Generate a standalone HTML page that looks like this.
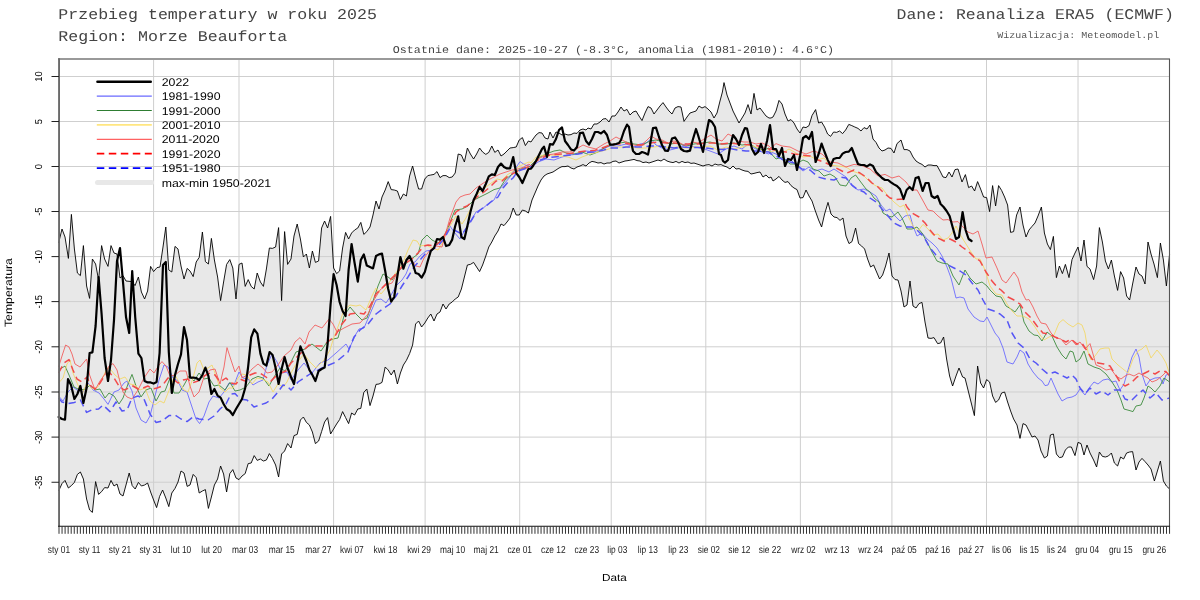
<!DOCTYPE html>
<html lang="pl"><head><meta charset="utf-8"><title>Przebieg temperatury w roku 2025</title>
<style>
html,body{margin:0;padding:0;background:#fff;}
body{width:1200px;height:600px;overflow:hidden;}
svg{display:block;}
text{text-rendering:geometricPrecision;}
.mono{font-family:"Liberation Mono","DejaVu Sans Mono",monospace;fill:#444;}
.sans{font-family:"Liberation Sans","DejaVu Sans",sans-serif;fill:#000;}
</style></head><body>
<svg width="1200" height="600" viewBox="0 0 1200 600">
<rect x="0" y="0" width="1200" height="600" fill="#fff"/>
<text class="mono" font-size="16.6" text-anchor="start" transform="translate(58.30,19.00) scale(1.000,0.900)">Przebieg temperatury w roku 2025</text>
<text class="mono" font-size="16.6" text-anchor="start" transform="translate(58.30,40.50) scale(1.000,0.900)">Region: Morze Beauforta</text>
<text class="mono" font-size="16.5" text-anchor="end" transform="translate(1173.80,19.00) scale(1.000,0.900)">Dane: Reanaliza ERA5 (ECMWF)</text>
<text class="mono" font-size="10" text-anchor="end" transform="translate(1159.30,37.50) scale(1.000,0.920)" style="fill:#555">Wizualizacja: Meteomodel.pl</text>
<text class="mono" font-size="11.68" text-anchor="middle" transform="translate(613.50,52.80) scale(1.000,0.900)">Ostatnie dane: 2025-10-27 (-8.3°C, anomalia (1981-2010): 4.6°C)</text>
<polygon points="58.6,243.0 62.0,229.0 65.0,237.0 68.4,258.4 71.4,214.4 74.4,249.0 77.4,273.0 80.4,275.6 83.4,245.6 86.6,286.0 89.6,298.4 92.4,259.0 95.6,264.0 98.6,280.0 101.6,245.6 104.6,259.0 108.0,266.4 111.0,245.6 114.0,253.0 117.0,254.0 120.0,278.0 123.0,275.6 126.0,281.0 132.0,281.6 135.0,285.6 138.4,277.0 141.4,292.0 144.6,299.0 147.6,291.0 150.6,266.4 153.6,271.6 157.0,267.6 160.0,267.0 163.0,247.0 165.8,227.0 168.8,270.0 171.8,272.0 175.0,246.4 178.0,249.0 181.0,266.0 184.0,279.0 187.2,268.4 190.0,271.0 193.2,276.6 196.2,262.0 199.2,257.4 202.4,232.0 205.4,261.6 208.4,264.0 211.4,238.4 214.4,260.0 217.6,277.0 220.6,300.6 223.6,282.0 226.6,264.4 229.8,259.6 232.8,268.0 236.0,299.0 239.0,264.4 242.0,263.0 245.2,286.4 248.2,279.6 251.2,286.4 254.2,289.0 257.2,273.0 260.4,282.0 263.4,286.4 266.4,269.0 269.4,248.0 272.4,248.4 275.6,247.0 278.6,227.6 281.6,300.6 284.6,231.6 287.6,264.4 291.0,259.0 294.0,236.0 297.2,224.0 300.4,239.0 303.4,257.0 306.4,254.0 309.4,268.0 312.4,251.0 315.4,262.4 318.6,261.0 321.6,228.0 324.6,221.0 327.6,228.0 330.6,216.4 333.6,268.0 336.6,273.6 339.6,271.0 342.6,248.0 345.6,232.4 348.6,239.0 351.6,233.0 354.6,230.0 357.8,228.0 360.8,222.4 363.8,234.4 366.8,231.6 370.0,227.0 373.0,215.0 376.0,201.0 379.0,209.0 382.0,197.0 385.2,190.0 388.2,181.6 391.2,189.6 394.2,190.0 397.4,191.0 400.4,199.6 403.4,194.0 406.4,196.0 409.6,176.0 412.6,166.0 415.6,178.0 418.6,189.0 421.6,189.0 424.8,179.0 427.8,175.6 430.8,175.0 434.0,174.4 437.0,171.6 440.0,177.6 443.0,175.6 446.0,175.6 449.2,177.6 452.2,177.0 455.2,173.0 458.2,154.0 461.4,155.0 464.4,162.0 467.4,148.0 470.4,154.0 473.6,159.0 476.6,154.0 479.6,148.0 482.6,152.0 485.8,154.4 488.8,152.4 491.8,146.0 494.8,152.4 498.0,150.0 501.0,156.0 504.0,154.0 507.0,151.0 510.0,148.0 513.2,147.6 516.2,147.0 519.2,140.0 522.4,137.6 525.4,145.6 528.4,141.0 531.0,142.0 533.0,139.0 536.0,135.0 539.0,132.6 542.0,133.0 545.0,138.0 548.0,139.0 550.0,132.0 553.0,138.0 556.0,132.0 559.0,133.0 562.0,135.0 565.0,134.0 568.0,135.0 571.0,134.6 574.0,133.0 577.0,133.4 580.0,130.0 583.0,129.0 586.0,130.0 588.0,128.0 591.0,129.0 594.0,124.0 597.0,124.0 600.0,122.0 603.0,119.0 606.0,118.6 609.0,122.0 612.0,116.0 615.0,116.0 618.0,112.0 621.0,107.0 624.0,111.0 627.0,109.4 630.0,115.0 633.0,112.0 636.0,111.0 639.0,116.0 642.0,120.6 645.0,113.0 648.0,106.6 651.0,108.0 654.0,114.0 657.0,110.0 660.0,106.0 663.0,102.6 666.0,107.0 669.0,111.0 672.0,114.0 675.0,108.0 678.0,106.6 681.0,107.0 684.0,121.4 687.0,117.0 690.0,113.0 693.0,112.0 696.0,111.0 699.0,106.0 702.0,108.0 705.0,106.6 708.0,109.0 711.0,112.0 714.0,118.0 717.0,113.0 720.0,101.0 722.4,92.0 724.0,82.6 727.0,95.0 730.0,103.0 733.0,111.0 736.0,117.0 739.0,123.0 742.0,118.0 745.0,113.0 748.0,104.6 751.0,114.0 754.0,93.4 757.0,110.0 760.0,108.0 763.0,112.0 766.0,116.0 769.0,118.0 771.0,118.0 773.0,117.0 776.0,111.0 779.0,100.4 782.0,104.0 785.0,114.0 788.0,121.0 791.0,119.6 794.0,123.0 797.0,129.0 800.0,133.0 803.0,127.0 806.0,127.6 809.0,125.6 812.0,115.6 815.6,109.6 818.6,123.0 821.6,122.0 824.6,127.0 827.6,134.0 830.6,136.4 833.6,132.0 836.6,132.4 839.6,131.0 842.6,133.6 845.6,130.0 848.8,124.4 851.8,125.6 854.8,127.0 858.0,128.4 861.0,131.0 864.0,127.6 867.0,129.0 870.0,125.0 873.0,139.0 876.0,142.4 879.0,148.0 882.0,151.0 885.0,150.0 888.0,148.0 891.0,148.4 894.0,153.0 897.0,143.6 901.0,140.0 904.0,149.6 907.0,149.6 910.0,151.0 913.0,157.0 916.0,161.0 919.0,163.0 922.0,164.4 925.0,167.0 928.0,165.0 931.0,165.0 934.0,165.6 937.0,165.6 940.0,171.0 943.0,177.0 946.0,177.6 949.0,172.0 952.0,177.0 955.0,169.6 958.0,169.0 962.0,182.0 965.4,174.6 968.6,187.6 971.6,186.0 974.6,191.0 977.6,181.6 980.6,189.0 983.6,197.0 986.6,197.6 989.6,211.6 992.6,185.6 995.6,206.0 998.6,185.6 1001.6,190.4 1004.6,197.0 1007.6,205.0 1010.6,232.4 1013.6,231.6 1016.6,215.0 1020.0,207.0 1023.0,225.0 1026.0,237.0 1029.0,230.0 1032.0,226.4 1035.0,223.0 1038.0,216.0 1041.4,207.0 1044.4,233.0 1047.4,244.0 1050.4,249.6 1053.4,236.4 1056.4,277.6 1059.4,266.0 1062.4,273.6 1065.4,264.4 1069.0,277.6 1072.0,259.6 1075.0,253.0 1078.0,247.0 1081.0,261.0 1084.0,240.0 1087.0,266.4 1090.0,269.0 1093.6,279.6 1096.6,266.0 1099.4,227.6 1102.4,242.0 1105.4,261.0 1108.4,269.0 1111.4,260.0 1114.4,276.0 1117.6,290.4 1120.6,271.6 1123.6,278.0 1126.6,296.0 1129.6,300.0 1132.6,284.0 1136.0,267.0 1139.0,274.0 1142.0,276.0 1145.0,284.0 1148.0,242.0 1151.0,254.0 1154.0,264.0 1157.4,277.6 1160.4,243.0 1163.4,260.0 1166.4,286.0 1169.6,254.0 1169.6,489.0 1166.4,486.0 1163.4,481.0 1160.4,461.0 1157.4,471.0 1154.4,481.0 1151.0,469.0 1148.0,465.0 1145.0,461.6 1142.0,458.4 1139.0,462.0 1136.0,470.0 1132.6,451.6 1129.6,452.0 1126.6,453.0 1123.6,459.0 1120.6,457.0 1117.6,466.0 1114.4,463.0 1111.4,453.0 1108.4,456.0 1105.4,457.0 1102.4,456.4 1099.4,452.0 1096.6,467.0 1093.6,460.0 1090.0,453.0 1087.0,445.0 1084.0,455.0 1081.0,443.6 1078.0,442.4 1075.0,455.6 1071.4,447.0 1068.4,447.0 1065.4,450.0 1062.4,457.0 1059.4,457.6 1056.4,454.0 1053.4,434.0 1050.4,435.0 1047.4,456.0 1044.4,458.0 1041.0,451.0 1038.0,440.0 1035.0,436.0 1032.0,437.0 1029.0,431.0 1026.0,425.0 1023.0,423.6 1020.0,438.4 1017.0,425.0 1013.6,419.0 1010.6,411.0 1007.6,402.0 1004.6,392.0 1001.6,393.0 998.6,400.0 995.6,402.4 992.6,396.0 989.6,382.0 986.6,379.6 983.6,388.0 980.6,383.0 977.6,366.0 974.4,415.6 969.0,394.0 965.0,378.0 962.6,377.0 959.0,368.0 956.0,376.0 952.6,386.0 949.6,376.0 946.6,359.0 943.6,337.0 940.6,343.0 937.6,343.6 934.0,337.6 931.0,338.4 928.0,338.0 925.0,322.0 922.0,302.4 919.0,303.6 916.0,308.0 913.0,306.0 910.0,281.0 907.0,305.0 904.0,307.0 901.0,291.0 898.0,280.0 895.0,279.6 892.0,276.0 889.0,253.0 885.6,266.0 882.6,275.0 879.6,279.0 876.6,272.0 873.6,265.0 870.6,267.0 867.6,259.0 864.6,249.0 861.6,246.0 858.6,243.6 855.6,228.0 852.0,241.6 849.0,243.6 846.0,236.0 843.0,218.0 840.0,220.4 837.0,217.6 834.0,217.0 831.0,214.0 828.0,202.4 824.6,214.0 821.6,227.0 818.6,220.0 815.0,210.0 812.0,201.0 809.0,196.0 806.0,190.0 803.0,197.6 800.0,198.0 797.0,189.6 794.0,188.0 791.0,185.6 788.0,181.6 785.0,182.4 782.0,180.0 779.0,176.4 776.0,179.0 773.0,181.0 771.0,177.0 769.0,178.0 766.0,175.0 763.0,177.0 760.0,172.0 757.0,172.6 754.0,173.4 751.0,174.0 748.0,171.4 745.0,171.0 742.0,170.0 739.0,168.6 736.0,169.0 733.0,166.0 730.0,169.0 727.0,167.0 724.0,166.0 721.0,164.6 718.0,165.0 715.0,164.0 712.0,166.0 709.0,164.6 706.0,165.0 703.0,166.0 700.0,165.0 697.0,164.0 694.0,163.0 691.0,163.4 688.0,162.0 685.0,162.6 682.0,161.4 679.0,163.0 676.0,161.4 673.0,162.6 670.0,162.0 667.0,161.0 664.0,159.0 661.0,161.0 658.0,160.0 655.0,161.0 652.0,162.0 649.0,163.0 646.0,162.0 643.0,162.6 640.0,161.0 637.0,160.6 634.0,159.4 631.0,160.0 628.0,160.6 625.0,161.0 622.0,162.0 619.0,163.0 616.0,161.0 613.0,161.4 610.0,163.0 607.0,163.0 604.0,164.0 601.0,162.6 598.0,163.0 595.0,162.0 592.0,161.4 589.0,163.0 586.0,166.0 583.0,164.6 580.0,166.0 577.0,167.0 574.0,169.0 571.0,168.0 568.0,166.0 565.0,166.6 562.0,166.6 559.0,168.0 556.0,170.0 553.0,172.0 550.0,173.0 547.0,174.0 544.0,176.0 541.0,180.0 538.0,186.0 535.0,193.0 532.0,200.0 528.4,213.0 525.4,211.0 522.4,210.0 519.2,215.0 516.2,215.0 513.2,208.0 510.0,218.0 507.0,222.0 504.0,225.6 501.0,224.0 498.0,231.0 494.8,236.0 491.8,242.0 488.8,247.0 485.8,256.0 482.6,265.0 479.6,271.6 476.6,267.0 473.6,262.4 470.4,264.4 467.4,265.0 464.4,277.0 461.4,289.0 458.2,297.0 455.2,299.0 452.2,302.0 449.2,304.0 446.0,309.0 443.0,304.0 440.0,312.0 437.0,314.0 434.0,321.0 430.8,314.0 427.8,318.0 424.8,323.0 421.6,327.0 418.6,321.0 415.6,324.0 412.6,345.0 409.6,353.6 406.4,360.4 403.4,365.0 400.4,373.0 397.4,384.0 394.2,370.0 391.2,375.0 388.2,370.0 385.2,367.0 382.0,382.4 379.0,384.0 376.0,384.4 373.0,396.0 370.0,405.6 366.8,389.0 363.8,392.4 360.8,408.4 357.8,409.0 354.6,415.0 351.6,413.0 348.6,423.6 345.6,417.6 342.6,411.6 339.6,419.6 336.6,424.0 333.6,429.0 330.6,434.0 327.6,417.6 324.6,422.0 321.6,431.6 318.6,441.0 315.4,443.6 312.4,432.0 309.4,425.0 306.4,422.4 303.4,417.0 300.4,420.0 297.2,434.4 294.0,435.6 291.0,448.0 287.6,443.6 284.6,451.0 281.6,454.0 278.6,477.0 275.6,465.0 272.4,458.4 269.4,453.6 266.4,460.0 263.4,461.0 260.4,459.0 257.2,460.4 254.2,455.6 251.2,463.0 248.2,463.6 245.2,473.6 242.0,476.0 239.0,479.6 236.0,478.0 232.8,469.6 229.8,473.6 226.6,492.0 223.6,474.0 220.6,466.0 217.6,479.0 214.4,485.0 211.4,497.0 208.4,508.4 205.4,489.6 202.4,491.0 199.2,493.0 196.2,477.6 193.2,474.4 190.0,485.0 187.2,486.4 184.0,473.0 181.0,471.0 178.0,482.0 175.0,488.4 171.8,493.0 168.8,506.6 165.8,498.0 162.6,490.0 159.6,496.4 156.6,507.6 153.6,500.0 150.6,492.0 147.6,483.0 144.6,485.0 141.4,486.0 138.4,482.4 135.2,489.0 132.2,485.6 129.2,473.0 126.0,485.0 123.0,496.0 120.0,494.0 117.0,484.0 114.0,486.0 111.0,480.4 108.0,488.0 104.6,487.6 101.6,491.6 98.6,494.4 95.6,481.6 92.4,512.4 89.6,510.0 86.6,499.0 83.4,479.0 80.4,472.0 77.4,474.4 74.4,482.4 71.4,485.6 68.4,488.0 65.0,480.4 62.0,483.6 58.6,491.0" fill="#e8e8e8" stroke="none"/>
<path d="M59.0 482.25H1169.6M59.0 437.10H1169.6M59.0 392.00H1169.6M59.0 346.80H1169.6M59.0 301.60H1169.6M59.0 256.60H1169.6M59.0 211.50H1169.6M59.0 166.50H1169.6M59.0 121.50H1169.6M59.0 76.50H1169.6M153.58 59.0V526.5M239.01 59.0V526.5M333.59 59.0V526.5M425.12 59.0V526.5M519.70 59.0V526.5M611.23 59.0V526.5M705.81 59.0V526.5M800.39 59.0V526.5M891.92 59.0V526.5M986.50 59.0V526.5M1078.03 59.0V526.5" stroke="#cfcfcf" stroke-width="1" fill="none"/>
<polyline points="58.6,243.0 62.0,229.0 65.0,237.0 68.4,258.4 71.4,214.4 74.4,249.0 77.4,273.0 80.4,275.6 83.4,245.6 86.6,286.0 89.6,298.4 92.4,259.0 95.6,264.0 98.6,280.0 101.6,245.6 104.6,259.0 108.0,266.4 111.0,245.6 114.0,253.0 117.0,254.0 120.0,278.0 123.0,275.6 126.0,281.0 132.0,281.6 135.0,285.6 138.4,277.0 141.4,292.0 144.6,299.0 147.6,291.0 150.6,266.4 153.6,271.6 157.0,267.6 160.0,267.0 163.0,247.0 165.8,227.0 168.8,270.0 171.8,272.0 175.0,246.4 178.0,249.0 181.0,266.0 184.0,279.0 187.2,268.4 190.0,271.0 193.2,276.6 196.2,262.0 199.2,257.4 202.4,232.0 205.4,261.6 208.4,264.0 211.4,238.4 214.4,260.0 217.6,277.0 220.6,300.6 223.6,282.0 226.6,264.4 229.8,259.6 232.8,268.0 236.0,299.0 239.0,264.4 242.0,263.0 245.2,286.4 248.2,279.6 251.2,286.4 254.2,289.0 257.2,273.0 260.4,282.0 263.4,286.4 266.4,269.0 269.4,248.0 272.4,248.4 275.6,247.0 278.6,227.6 281.6,300.6 284.6,231.6 287.6,264.4 291.0,259.0 294.0,236.0 297.2,224.0 300.4,239.0 303.4,257.0 306.4,254.0 309.4,268.0 312.4,251.0 315.4,262.4 318.6,261.0 321.6,228.0 324.6,221.0 327.6,228.0 330.6,216.4 333.6,268.0 336.6,273.6 339.6,271.0 342.6,248.0 345.6,232.4 348.6,239.0 351.6,233.0 354.6,230.0 357.8,228.0 360.8,222.4 363.8,234.4 366.8,231.6 370.0,227.0 373.0,215.0 376.0,201.0 379.0,209.0 382.0,197.0 385.2,190.0 388.2,181.6 391.2,189.6 394.2,190.0 397.4,191.0 400.4,199.6 403.4,194.0 406.4,196.0 409.6,176.0 412.6,166.0 415.6,178.0 418.6,189.0 421.6,189.0 424.8,179.0 427.8,175.6 430.8,175.0 434.0,174.4 437.0,171.6 440.0,177.6 443.0,175.6 446.0,175.6 449.2,177.6 452.2,177.0 455.2,173.0 458.2,154.0 461.4,155.0 464.4,162.0 467.4,148.0 470.4,154.0 473.6,159.0 476.6,154.0 479.6,148.0 482.6,152.0 485.8,154.4 488.8,152.4 491.8,146.0 494.8,152.4 498.0,150.0 501.0,156.0 504.0,154.0 507.0,151.0 510.0,148.0 513.2,147.6 516.2,147.0 519.2,140.0 522.4,137.6 525.4,145.6 528.4,141.0 531.0,142.0 533.0,139.0 536.0,135.0 539.0,132.6 542.0,133.0 545.0,138.0 548.0,139.0 550.0,132.0 553.0,138.0 556.0,132.0 559.0,133.0 562.0,135.0 565.0,134.0 568.0,135.0 571.0,134.6 574.0,133.0 577.0,133.4 580.0,130.0 583.0,129.0 586.0,130.0 588.0,128.0 591.0,129.0 594.0,124.0 597.0,124.0 600.0,122.0 603.0,119.0 606.0,118.6 609.0,122.0 612.0,116.0 615.0,116.0 618.0,112.0 621.0,107.0 624.0,111.0 627.0,109.4 630.0,115.0 633.0,112.0 636.0,111.0 639.0,116.0 642.0,120.6 645.0,113.0 648.0,106.6 651.0,108.0 654.0,114.0 657.0,110.0 660.0,106.0 663.0,102.6 666.0,107.0 669.0,111.0 672.0,114.0 675.0,108.0 678.0,106.6 681.0,107.0 684.0,121.4 687.0,117.0 690.0,113.0 693.0,112.0 696.0,111.0 699.0,106.0 702.0,108.0 705.0,106.6 708.0,109.0 711.0,112.0 714.0,118.0 717.0,113.0 720.0,101.0 722.4,92.0 724.0,82.6 727.0,95.0 730.0,103.0 733.0,111.0 736.0,117.0 739.0,123.0 742.0,118.0 745.0,113.0 748.0,104.6 751.0,114.0 754.0,93.4 757.0,110.0 760.0,108.0 763.0,112.0 766.0,116.0 769.0,118.0 771.0,118.0 773.0,117.0 776.0,111.0 779.0,100.4 782.0,104.0 785.0,114.0 788.0,121.0 791.0,119.6 794.0,123.0 797.0,129.0 800.0,133.0 803.0,127.0 806.0,127.6 809.0,125.6 812.0,115.6 815.6,109.6 818.6,123.0 821.6,122.0 824.6,127.0 827.6,134.0 830.6,136.4 833.6,132.0 836.6,132.4 839.6,131.0 842.6,133.6 845.6,130.0 848.8,124.4 851.8,125.6 854.8,127.0 858.0,128.4 861.0,131.0 864.0,127.6 867.0,129.0 870.0,125.0 873.0,139.0 876.0,142.4 879.0,148.0 882.0,151.0 885.0,150.0 888.0,148.0 891.0,148.4 894.0,153.0 897.0,143.6 901.0,140.0 904.0,149.6 907.0,149.6 910.0,151.0 913.0,157.0 916.0,161.0 919.0,163.0 922.0,164.4 925.0,167.0 928.0,165.0 931.0,165.0 934.0,165.6 937.0,165.6 940.0,171.0 943.0,177.0 946.0,177.6 949.0,172.0 952.0,177.0 955.0,169.6 958.0,169.0 962.0,182.0 965.4,174.6 968.6,187.6 971.6,186.0 974.6,191.0 977.6,181.6 980.6,189.0 983.6,197.0 986.6,197.6 989.6,211.6 992.6,185.6 995.6,206.0 998.6,185.6 1001.6,190.4 1004.6,197.0 1007.6,205.0 1010.6,232.4 1013.6,231.6 1016.6,215.0 1020.0,207.0 1023.0,225.0 1026.0,237.0 1029.0,230.0 1032.0,226.4 1035.0,223.0 1038.0,216.0 1041.4,207.0 1044.4,233.0 1047.4,244.0 1050.4,249.6 1053.4,236.4 1056.4,277.6 1059.4,266.0 1062.4,273.6 1065.4,264.4 1069.0,277.6 1072.0,259.6 1075.0,253.0 1078.0,247.0 1081.0,261.0 1084.0,240.0 1087.0,266.4 1090.0,269.0 1093.6,279.6 1096.6,266.0 1099.4,227.6 1102.4,242.0 1105.4,261.0 1108.4,269.0 1111.4,260.0 1114.4,276.0 1117.6,290.4 1120.6,271.6 1123.6,278.0 1126.6,296.0 1129.6,300.0 1132.6,284.0 1136.0,267.0 1139.0,274.0 1142.0,276.0 1145.0,284.0 1148.0,242.0 1151.0,254.0 1154.0,264.0 1157.4,277.6 1160.4,243.0 1163.4,260.0 1166.4,286.0 1169.6,254.0" fill="none" stroke="#000" stroke-width="0.9" stroke-linejoin="round"/>
<polyline points="58.6,491.0 62.0,483.6 65.0,480.4 68.4,488.0 71.4,485.6 74.4,482.4 77.4,474.4 80.4,472.0 83.4,479.0 86.6,499.0 89.6,510.0 92.4,512.4 95.6,481.6 98.6,494.4 101.6,491.6 104.6,487.6 108.0,488.0 111.0,480.4 114.0,486.0 117.0,484.0 120.0,494.0 123.0,496.0 126.0,485.0 129.2,473.0 132.2,485.6 135.2,489.0 138.4,482.4 141.4,486.0 144.6,485.0 147.6,483.0 150.6,492.0 153.6,500.0 156.6,507.6 159.6,496.4 162.6,490.0 165.8,498.0 168.8,506.6 171.8,493.0 175.0,488.4 178.0,482.0 181.0,471.0 184.0,473.0 187.2,486.4 190.0,485.0 193.2,474.4 196.2,477.6 199.2,493.0 202.4,491.0 205.4,489.6 208.4,508.4 211.4,497.0 214.4,485.0 217.6,479.0 220.6,466.0 223.6,474.0 226.6,492.0 229.8,473.6 232.8,469.6 236.0,478.0 239.0,479.6 242.0,476.0 245.2,473.6 248.2,463.6 251.2,463.0 254.2,455.6 257.2,460.4 260.4,459.0 263.4,461.0 266.4,460.0 269.4,453.6 272.4,458.4 275.6,465.0 278.6,477.0 281.6,454.0 284.6,451.0 287.6,443.6 291.0,448.0 294.0,435.6 297.2,434.4 300.4,420.0 303.4,417.0 306.4,422.4 309.4,425.0 312.4,432.0 315.4,443.6 318.6,441.0 321.6,431.6 324.6,422.0 327.6,417.6 330.6,434.0 333.6,429.0 336.6,424.0 339.6,419.6 342.6,411.6 345.6,417.6 348.6,423.6 351.6,413.0 354.6,415.0 357.8,409.0 360.8,408.4 363.8,392.4 366.8,389.0 370.0,405.6 373.0,396.0 376.0,384.4 379.0,384.0 382.0,382.4 385.2,367.0 388.2,370.0 391.2,375.0 394.2,370.0 397.4,384.0 400.4,373.0 403.4,365.0 406.4,360.4 409.6,353.6 412.6,345.0 415.6,324.0 418.6,321.0 421.6,327.0 424.8,323.0 427.8,318.0 430.8,314.0 434.0,321.0 437.0,314.0 440.0,312.0 443.0,304.0 446.0,309.0 449.2,304.0 452.2,302.0 455.2,299.0 458.2,297.0 461.4,289.0 464.4,277.0 467.4,265.0 470.4,264.4 473.6,262.4 476.6,267.0 479.6,271.6 482.6,265.0 485.8,256.0 488.8,247.0 491.8,242.0 494.8,236.0 498.0,231.0 501.0,224.0 504.0,225.6 507.0,222.0 510.0,218.0 513.2,208.0 516.2,215.0 519.2,215.0 522.4,210.0 525.4,211.0 528.4,213.0 532.0,200.0 535.0,193.0 538.0,186.0 541.0,180.0 544.0,176.0 547.0,174.0 550.0,173.0 553.0,172.0 556.0,170.0 559.0,168.0 562.0,166.6 565.0,166.6 568.0,166.0 571.0,168.0 574.0,169.0 577.0,167.0 580.0,166.0 583.0,164.6 586.0,166.0 589.0,163.0 592.0,161.4 595.0,162.0 598.0,163.0 601.0,162.6 604.0,164.0 607.0,163.0 610.0,163.0 613.0,161.4 616.0,161.0 619.0,163.0 622.0,162.0 625.0,161.0 628.0,160.6 631.0,160.0 634.0,159.4 637.0,160.6 640.0,161.0 643.0,162.6 646.0,162.0 649.0,163.0 652.0,162.0 655.0,161.0 658.0,160.0 661.0,161.0 664.0,159.0 667.0,161.0 670.0,162.0 673.0,162.6 676.0,161.4 679.0,163.0 682.0,161.4 685.0,162.6 688.0,162.0 691.0,163.4 694.0,163.0 697.0,164.0 700.0,165.0 703.0,166.0 706.0,165.0 709.0,164.6 712.0,166.0 715.0,164.0 718.0,165.0 721.0,164.6 724.0,166.0 727.0,167.0 730.0,169.0 733.0,166.0 736.0,169.0 739.0,168.6 742.0,170.0 745.0,171.0 748.0,171.4 751.0,174.0 754.0,173.4 757.0,172.6 760.0,172.0 763.0,177.0 766.0,175.0 769.0,178.0 771.0,177.0 773.0,181.0 776.0,179.0 779.0,176.4 782.0,180.0 785.0,182.4 788.0,181.6 791.0,185.6 794.0,188.0 797.0,189.6 800.0,198.0 803.0,197.6 806.0,190.0 809.0,196.0 812.0,201.0 815.0,210.0 818.6,220.0 821.6,227.0 824.6,214.0 828.0,202.4 831.0,214.0 834.0,217.0 837.0,217.6 840.0,220.4 843.0,218.0 846.0,236.0 849.0,243.6 852.0,241.6 855.6,228.0 858.6,243.6 861.6,246.0 864.6,249.0 867.6,259.0 870.6,267.0 873.6,265.0 876.6,272.0 879.6,279.0 882.6,275.0 885.6,266.0 889.0,253.0 892.0,276.0 895.0,279.6 898.0,280.0 901.0,291.0 904.0,307.0 907.0,305.0 910.0,281.0 913.0,306.0 916.0,308.0 919.0,303.6 922.0,302.4 925.0,322.0 928.0,338.0 931.0,338.4 934.0,337.6 937.6,343.6 940.6,343.0 943.6,337.0 946.6,359.0 949.6,376.0 952.6,386.0 956.0,376.0 959.0,368.0 962.6,377.0 965.0,378.0 969.0,394.0 974.4,415.6 977.6,366.0 980.6,383.0 983.6,388.0 986.6,379.6 989.6,382.0 992.6,396.0 995.6,402.4 998.6,400.0 1001.6,393.0 1004.6,392.0 1007.6,402.0 1010.6,411.0 1013.6,419.0 1017.0,425.0 1020.0,438.4 1023.0,423.6 1026.0,425.0 1029.0,431.0 1032.0,437.0 1035.0,436.0 1038.0,440.0 1041.0,451.0 1044.4,458.0 1047.4,456.0 1050.4,435.0 1053.4,434.0 1056.4,454.0 1059.4,457.6 1062.4,457.0 1065.4,450.0 1068.4,447.0 1071.4,447.0 1075.0,455.6 1078.0,442.4 1081.0,443.6 1084.0,455.0 1087.0,445.0 1090.0,453.0 1093.6,460.0 1096.6,467.0 1099.4,452.0 1102.4,456.4 1105.4,457.0 1108.4,456.0 1111.4,453.0 1114.4,463.0 1117.6,466.0 1120.6,457.0 1123.6,459.0 1126.6,453.0 1129.6,452.0 1132.6,451.6 1136.0,470.0 1139.0,462.0 1142.0,458.4 1145.0,461.6 1148.0,465.0 1151.0,469.0 1154.4,481.0 1157.4,471.0 1160.4,461.0 1163.4,481.0 1166.4,486.0 1169.6,489.0" fill="none" stroke="#000" stroke-width="0.9" stroke-linejoin="round"/>
<polyline points="58.6,396.0 63.0,401.0 68.0,392.0 73.0,387.0 77.0,390.0 83.0,392.0 88.0,383.0 93.0,390.0 99.0,393.0 104.0,399.0 108.0,404.4 114.0,392.0 119.0,390.0 124.0,383.0 127.0,381.0 132.0,391.0 136.0,408.0 141.0,420.0 146.0,423.0 150.0,416.0 154.0,400.0 159.0,380.0 164.0,365.0 168.0,367.0 173.0,378.0 178.0,381.0 182.0,390.0 187.0,392.0 192.0,407.0 196.0,419.0 199.6,423.6 204.0,416.0 209.0,402.0 213.0,396.0 219.0,398.0 224.0,392.0 229.0,383.0 234.0,385.0 239.0,372.0 243.0,378.0 248.0,379.0 253.0,385.0 258.0,382.0 263.0,380.0 267.0,365.0 272.0,354.0 277.0,362.0 282.0,373.0 287.0,372.0 291.0,380.0 298.0,370.0 304.0,363.0 312.0,373.0 320.0,363.0 328.0,360.0 336.0,353.0 346.0,344.0 349.0,349.0 356.0,334.0 359.0,329.0 364.0,328.0 370.0,314.0 376.0,300.0 381.0,299.0 386.0,303.0 390.0,297.0 396.0,286.0 402.0,280.0 406.0,274.0 410.0,264.0 415.0,262.0 420.0,256.0 426.0,251.0 432.0,250.0 438.0,244.0 444.0,237.0 450.0,226.0 454.0,232.0 460.0,239.0 466.0,228.0 472.0,219.0 476.0,212.0 482.0,209.0 488.0,204.0 494.0,200.0 499.0,190.0 504.0,184.0 510.0,177.0 515.0,169.0 520.0,161.6 525.0,165.0 529.0,166.0 531.0,167.0 538.0,162.0 546.0,159.0 554.0,160.0 562.0,157.0 570.0,155.0 578.0,154.0 586.0,151.0 594.0,152.0 602.0,149.0 610.0,146.0 618.0,146.0 626.0,144.0 634.0,147.0 640.0,144.0 646.0,143.0 651.0,139.0 656.0,145.0 662.0,148.0 670.0,150.0 678.0,148.0 686.0,144.0 694.0,147.0 702.0,148.0 710.0,151.0 718.0,154.0 726.0,149.0 734.0,146.0 742.0,149.0 748.0,144.0 754.0,148.0 762.0,152.0 769.0,154.0 771.0,152.0 776.0,154.0 782.0,160.0 790.0,159.0 796.0,165.0 803.0,171.0 809.0,167.0 815.0,171.0 822.0,169.0 829.0,172.0 834.0,169.0 840.0,173.0 846.0,177.0 852.0,186.0 858.0,190.0 864.0,189.0 870.0,192.0 876.0,196.0 881.0,205.0 886.0,211.0 890.0,209.0 895.0,216.0 900.0,221.0 905.0,216.0 910.0,215.0 913.0,226.0 917.0,236.0 922.0,233.0 927.0,239.0 932.0,243.0 937.0,248.0 942.0,256.0 947.0,267.0 951.0,278.0 956.0,298.0 960.0,297.0 964.0,298.0 968.0,309.0 974.0,317.0 980.0,321.0 984.0,321.6 987.0,317.0 991.0,325.0 995.0,333.0 999.0,338.0 1003.0,348.0 1007.0,362.0 1013.0,364.0 1017.0,357.0 1020.0,350.0 1024.0,353.0 1028.0,364.0 1033.0,372.0 1038.0,378.0 1042.0,381.0 1045.0,385.6 1048.0,385.0 1051.0,378.0 1054.0,385.0 1058.0,394.0 1062.0,401.0 1067.0,398.0 1072.0,397.0 1076.0,395.0 1080.0,389.0 1085.0,395.0 1089.0,388.0 1094.0,382.0 1098.0,384.0 1103.0,380.0 1108.0,379.0 1112.0,382.0 1116.0,381.0 1120.0,390.0 1124.0,384.0 1128.0,370.0 1132.0,357.0 1136.0,349.0 1139.0,357.0 1142.0,374.0 1146.0,386.0 1150.0,380.0 1155.0,378.0 1160.0,377.6 1163.0,384.0 1166.0,375.0 1169.6,374.0" fill="none" stroke="#6b6bff" stroke-width="0.9" stroke-linejoin="round"/>
<polyline points="58.6,370.0 65.0,366.0 69.0,375.0 74.0,387.0 80.0,390.0 86.0,389.0 90.0,385.0 95.0,390.0 100.0,389.0 105.0,398.0 109.0,393.0 114.0,396.0 119.0,404.0 123.0,398.0 128.0,384.0 132.0,374.4 136.0,386.0 141.0,397.0 146.0,390.0 151.0,388.0 156.0,401.0 161.0,392.0 165.0,391.0 170.0,378.0 174.0,393.0 179.0,393.0 184.0,385.0 189.0,376.0 194.0,381.0 199.0,373.0 204.0,379.0 209.0,378.0 214.0,386.0 219.0,385.0 225.0,390.0 230.0,382.4 235.0,391.0 240.0,390.0 246.0,387.0 252.0,379.0 258.0,376.4 263.0,378.0 269.0,386.0 274.0,377.0 280.0,368.0 285.0,371.0 291.0,362.0 296.0,352.0 305.0,349.0 312.0,344.0 321.0,351.0 327.0,342.0 333.0,339.0 338.0,338.0 344.0,316.0 350.0,307.0 356.0,314.0 362.0,320.0 367.0,318.0 372.0,304.0 378.0,286.0 383.0,274.0 388.0,277.0 392.0,280.0 398.0,272.0 404.0,265.0 410.0,260.0 418.0,254.0 422.0,240.0 427.0,235.0 432.0,240.0 438.0,243.0 443.0,238.0 448.0,228.0 451.0,220.0 455.0,210.0 462.0,209.0 468.0,206.0 474.0,200.0 480.0,197.0 488.0,193.0 494.0,189.6 500.0,188.0 505.0,180.0 511.0,175.0 517.0,171.0 523.0,168.0 529.0,167.0 531.0,165.0 538.0,158.0 546.0,154.0 554.0,151.0 560.0,150.0 566.0,153.0 574.0,154.0 582.0,152.0 590.0,155.0 598.0,152.0 606.0,147.0 614.0,144.0 620.0,143.0 626.0,142.0 634.0,144.0 642.0,145.0 650.0,141.0 656.0,140.0 664.0,142.0 670.0,144.0 678.0,143.0 686.0,146.0 694.0,144.0 702.0,143.0 710.0,142.0 718.0,144.0 726.0,144.0 734.0,143.0 742.0,145.0 750.0,144.0 758.0,149.0 764.0,150.0 769.0,148.0 771.0,153.6 776.0,159.0 782.0,157.0 790.0,164.0 796.0,164.0 803.0,160.0 808.0,162.0 813.0,169.0 819.0,171.0 824.0,176.0 830.0,174.0 835.0,177.0 840.0,185.0 846.0,186.0 851.0,178.0 855.6,175.0 860.0,181.0 866.0,189.0 870.0,192.0 874.0,198.0 879.0,202.0 883.0,213.0 888.0,216.0 892.0,217.0 898.0,212.0 902.0,218.0 907.0,229.0 912.0,229.0 917.0,227.0 922.0,233.0 927.0,242.0 932.0,252.0 937.0,261.0 942.0,263.0 948.0,264.0 953.0,276.0 959.0,285.0 965.0,270.0 970.0,278.0 976.0,284.0 982.0,282.0 987.0,286.0 990.0,290.0 996.0,296.0 1001.0,297.0 1006.0,306.0 1011.0,309.0 1015.0,312.0 1020.0,305.0 1024.0,322.0 1029.0,331.0 1034.0,335.0 1038.0,335.6 1042.0,341.0 1047.0,332.0 1052.0,336.0 1057.0,347.0 1062.0,355.0 1066.0,359.0 1070.0,351.0 1073.0,352.0 1076.0,362.0 1080.0,359.0 1084.0,351.0 1088.0,364.0 1094.0,367.0 1100.0,369.0 1106.0,374.0 1112.0,382.0 1117.0,390.0 1121.0,400.0 1124.0,409.0 1129.0,410.4 1133.0,411.6 1136.0,406.0 1141.0,405.0 1144.0,398.0 1148.0,386.0 1151.0,388.0 1155.0,392.0 1160.0,386.0 1164.0,378.0 1169.6,382.0" fill="none" stroke="#3d8b3d" stroke-width="0.9" stroke-linejoin="round"/>
<polyline points="58.6,383.0 63.0,378.0 67.0,364.0 70.0,360.0 73.0,373.0 77.0,383.0 82.0,394.0 87.0,383.0 92.0,389.0 98.0,387.0 103.0,377.0 107.0,368.0 111.0,370.0 115.0,375.0 120.0,379.0 125.0,377.0 130.0,384.0 135.0,385.0 140.0,390.0 145.0,388.0 150.0,401.0 155.0,405.0 160.0,401.0 164.0,403.0 170.0,388.0 175.0,375.0 179.0,382.0 184.0,390.0 188.0,392.0 193.0,378.0 197.0,363.0 200.0,360.0 204.0,370.0 208.0,368.0 212.0,365.0 216.0,376.0 220.0,388.0 225.0,392.0 229.0,388.0 233.0,388.0 238.0,378.0 242.0,374.0 247.0,375.0 252.0,384.0 257.0,378.0 262.0,379.0 268.0,382.0 273.0,392.0 278.0,384.0 283.0,387.0 287.0,382.0 291.0,373.0 296.0,364.0 304.0,354.0 310.0,362.0 316.0,368.0 324.0,360.0 330.0,350.0 333.0,340.0 339.0,324.0 344.0,310.0 350.0,305.0 356.0,306.0 360.0,305.0 366.0,310.0 372.0,296.0 376.0,288.0 381.0,294.0 386.0,288.0 392.0,278.0 398.0,270.0 404.0,260.0 408.0,250.0 413.0,240.0 417.0,241.0 420.0,246.0 426.0,245.0 432.0,248.0 438.0,250.0 443.0,242.0 447.0,230.0 450.0,226.0 456.0,216.0 462.0,224.0 466.0,218.0 470.0,210.0 476.0,196.0 482.0,190.0 490.0,184.0 497.0,179.0 502.0,180.0 507.0,175.0 512.0,172.0 518.0,167.0 524.0,164.0 529.0,162.0 531.0,163.0 536.0,157.0 544.0,155.0 552.0,155.0 560.0,156.0 568.0,157.0 576.0,160.0 582.0,157.0 590.0,154.0 598.0,152.0 606.0,150.0 614.0,147.0 622.0,147.0 630.0,147.0 638.0,148.0 646.0,148.0 654.0,147.0 662.0,146.0 670.0,148.0 678.0,147.0 686.0,148.0 694.0,147.0 702.0,147.0 710.0,146.0 718.0,150.0 726.0,147.0 734.0,149.0 742.0,147.0 750.0,145.0 758.0,148.0 764.0,152.0 769.0,151.0 771.0,152.0 776.0,150.0 782.0,153.0 789.0,149.0 796.0,153.0 803.0,157.0 810.0,156.0 817.0,160.0 824.0,158.0 830.0,165.0 838.0,166.0 846.0,167.0 852.0,171.0 858.0,173.0 864.0,176.0 870.0,182.0 876.0,186.0 882.0,188.0 888.0,196.0 894.0,202.0 900.0,207.0 904.0,205.0 908.0,216.0 913.0,226.0 918.0,231.0 923.0,224.4 928.0,229.0 933.0,235.0 938.0,234.0 943.0,240.0 948.0,238.0 952.0,233.0 956.0,226.0 961.0,236.0 966.0,244.0 971.0,252.0 976.0,259.0 980.0,259.0 985.0,270.0 990.0,286.0 996.0,294.0 1002.0,295.0 1007.0,304.0 1012.0,311.0 1017.0,316.0 1023.0,316.0 1029.0,319.0 1035.0,327.0 1040.0,335.0 1044.0,340.0 1049.0,337.0 1054.0,335.0 1059.0,323.0 1063.0,319.6 1068.0,324.0 1073.0,327.0 1078.0,323.0 1082.0,325.0 1085.0,333.0 1088.0,352.0 1091.0,360.0 1095.0,356.0 1100.0,349.0 1105.0,348.0 1109.0,348.0 1112.0,359.0 1118.0,365.0 1123.0,369.0 1128.0,373.0 1133.0,359.0 1138.0,351.0 1142.0,349.0 1146.0,345.0 1151.0,358.0 1157.0,350.0 1162.0,356.0 1166.0,363.0 1169.6,374.0" fill="none" stroke="#f3d869" stroke-width="0.9" stroke-linejoin="round"/>
<polyline points="58.6,367.0 62.0,356.0 65.6,345.0 69.0,347.0 72.0,354.0 75.0,364.0 80.0,367.0 86.6,359.0 89.6,375.0 95.0,390.0 100.0,381.0 105.0,374.0 109.0,366.0 113.0,363.6 117.0,370.0 120.0,382.0 123.0,392.0 127.0,397.0 132.0,399.0 138.0,390.0 144.0,378.0 150.0,369.0 154.0,373.0 159.0,365.0 162.0,361.6 166.0,366.0 170.0,376.0 175.0,375.0 180.0,371.0 186.0,371.0 190.0,386.0 194.0,397.0 199.0,392.0 204.0,377.0 210.0,370.0 215.0,369.0 220.0,384.0 224.0,367.0 227.0,347.6 231.0,360.0 235.0,372.0 239.0,366.0 242.0,378.0 247.0,375.0 252.0,369.0 258.0,364.0 263.0,368.0 267.0,373.0 272.0,372.0 278.0,365.0 284.0,356.0 291.0,350.0 295.0,342.0 300.0,337.6 305.0,344.0 309.0,332.0 315.0,325.0 322.0,328.0 329.0,319.0 333.0,324.0 337.0,332.0 344.0,328.0 352.0,324.0 360.0,323.0 368.0,314.0 374.0,300.0 380.0,290.0 386.0,285.0 392.0,283.0 398.0,272.0 404.0,263.0 410.0,258.0 416.0,266.0 420.0,267.0 424.0,258.0 430.0,250.0 436.0,246.0 442.0,247.0 446.0,232.0 450.0,218.0 456.0,202.0 460.0,197.0 465.0,195.0 470.0,194.0 476.0,188.0 482.0,184.0 488.0,180.0 494.0,177.0 500.0,174.0 506.0,172.0 512.0,170.0 518.0,169.0 524.0,167.0 529.0,164.0 531.0,166.0 538.0,159.0 546.0,155.0 554.0,154.0 562.0,152.0 570.0,152.0 578.0,148.0 583.0,145.0 588.0,147.0 596.0,149.0 604.0,144.0 610.0,141.0 616.0,137.0 622.0,140.0 628.0,143.0 634.0,145.0 640.0,146.0 646.0,141.0 651.0,136.0 656.0,139.0 662.0,140.0 668.0,143.0 674.0,141.0 680.0,143.0 686.0,146.0 692.0,142.0 698.0,143.0 704.0,139.0 711.0,135.0 716.0,139.0 722.0,141.0 728.0,134.0 732.0,136.0 738.0,141.0 744.0,142.0 750.0,142.0 756.0,144.0 762.0,143.0 769.0,146.0 771.0,148.0 776.0,143.6 782.0,146.0 790.0,147.0 798.0,151.0 806.0,154.0 814.0,151.0 822.0,154.0 830.0,162.0 838.0,163.0 846.0,167.0 854.0,164.4 862.0,165.6 870.0,169.0 878.0,176.0 885.0,174.4 892.0,178.0 899.0,176.0 906.0,182.0 912.0,190.0 917.0,190.0 922.0,199.0 928.0,210.0 933.0,211.0 938.0,216.0 943.0,220.0 948.0,219.6 953.0,222.0 958.0,221.6 963.0,227.0 968.0,232.0 973.0,234.0 978.0,231.0 982.0,244.0 986.0,258.0 992.0,257.0 997.0,268.0 1002.0,280.0 1006.0,283.0 1014.0,272.0 1018.0,278.0 1022.0,292.0 1026.0,300.0 1029.0,299.6 1033.0,307.0 1037.0,316.0 1041.0,323.0 1046.0,324.0 1051.0,333.0 1056.0,338.0 1061.0,339.0 1066.0,345.0 1072.0,340.0 1076.0,345.0 1080.0,342.0 1085.0,349.0 1090.0,343.6 1093.0,354.0 1096.0,365.0 1101.0,367.0 1106.0,370.0 1111.0,369.0 1116.0,376.0 1121.0,379.0 1125.0,376.0 1129.0,374.0 1134.0,376.0 1139.0,373.0 1144.0,376.0 1148.0,378.0 1152.0,382.0 1157.0,380.0 1162.0,376.0 1166.0,372.0 1169.6,375.0" fill="none" stroke="#f25f5f" stroke-width="0.9" stroke-linejoin="round"/>
<polyline points="58.6,373.0 64.0,363.0 69.0,359.6 73.0,370.0 77.0,379.0 82.0,382.0 87.0,377.0 91.0,386.0 95.0,389.0 100.0,383.0 105.0,375.0 110.0,373.0 114.0,378.0 119.0,386.0 124.0,390.0 129.0,388.0 133.0,386.0 138.0,389.0 143.0,388.0 148.0,386.0 152.0,389.0 157.0,388.0 162.0,386.0 168.0,378.0 173.0,379.0 178.0,383.0 183.0,380.0 188.0,379.0 192.0,383.0 198.0,381.0 204.0,376.0 210.0,373.0 215.0,375.0 220.0,382.0 226.0,378.0 231.0,383.0 236.0,384.0 240.0,379.0 245.0,381.0 250.0,375.0 255.0,373.0 260.0,373.0 266.0,377.0 271.0,381.0 276.0,376.0 281.0,373.0 286.0,371.0 291.0,363.0 295.0,359.0 302.0,352.0 309.0,345.0 316.0,346.0 323.0,346.0 330.0,340.0 335.0,336.0 342.0,324.0 350.0,314.0 358.0,313.0 364.0,314.0 370.0,306.0 376.0,294.0 382.0,288.0 388.0,282.0 394.0,276.0 400.0,269.0 406.0,263.0 412.0,259.0 418.0,253.0 424.0,246.0 428.0,245.0 434.0,246.0 440.0,242.0 446.0,233.0 450.0,223.0 456.0,212.0 462.0,208.0 467.0,206.0 472.0,202.0 478.0,196.0 484.0,192.0 490.0,187.0 496.0,181.0 502.0,181.0 508.0,176.0 514.0,173.0 520.0,170.0 526.0,168.0 529.0,166.4 531.0,166.0 538.0,160.0 546.0,156.0 554.0,154.6 562.0,154.0 570.0,153.4 578.0,152.0 586.0,151.0 594.0,150.6 602.0,148.0 610.0,145.0 618.0,144.0 626.0,143.4 634.0,144.6 642.0,145.0 650.0,143.0 658.0,142.0 666.0,143.0 674.0,143.0 682.0,144.0 690.0,144.0 698.0,144.0 706.0,143.0 714.0,143.0 722.0,144.0 730.0,143.0 738.0,144.0 746.0,144.6 754.0,145.0 762.0,147.0 769.0,149.0 771.0,149.0 778.0,151.0 786.0,152.0 794.0,154.0 802.0,155.0 810.0,156.0 818.0,160.0 826.0,163.0 834.0,167.0 842.0,171.0 847.0,173.0 854.0,170.0 860.0,173.0 866.0,177.0 872.0,183.0 878.0,187.0 883.0,192.0 890.0,198.0 896.0,199.6 903.0,199.0 907.0,207.0 912.0,213.0 919.0,217.0 925.0,223.0 930.0,230.0 936.0,237.0 944.0,241.0 950.0,239.0 956.0,242.0 962.0,247.0 968.0,251.0 974.0,257.0 980.0,261.0 986.0,272.0 992.0,281.0 998.0,288.0 1001.0,290.0 1008.0,297.0 1014.0,300.0 1020.0,304.0 1025.0,312.0 1031.0,318.0 1037.0,326.0 1043.0,333.0 1049.0,334.0 1055.0,337.0 1060.0,339.0 1066.0,342.0 1071.0,339.0 1077.0,344.0 1082.0,343.0 1087.0,351.0 1092.0,359.0 1098.0,363.0 1104.0,364.0 1110.0,366.0 1115.0,374.0 1120.0,382.0 1125.0,386.0 1131.0,383.0 1137.0,377.0 1143.0,374.0 1149.0,371.0 1155.0,374.0 1160.0,371.0 1166.0,371.6 1169.6,376.0" fill="none" stroke="#f24a4a" stroke-width="1.5" stroke-dasharray="7.5,4.5" stroke-linejoin="round"/>
<polyline points="58.6,398.0 62.0,402.0 68.0,403.6 74.4,402.4 80.4,400.0 86.6,412.4 92.4,409.6 98.6,409.0 103.0,405.0 110.0,411.6 116.0,402.0 122.0,411.0 127.0,410.0 132.0,398.0 138.0,396.0 144.0,399.0 150.0,414.0 156.0,422.4 162.0,421.0 169.0,415.6 175.0,415.0 181.0,419.0 187.0,421.6 193.0,417.0 199.0,419.0 208.0,420.0 214.0,416.0 220.0,409.0 226.0,404.0 231.0,394.0 235.0,393.6 240.0,399.0 247.0,400.0 254.0,407.0 260.0,405.0 266.0,403.0 272.0,399.0 278.0,392.0 283.0,385.0 287.0,386.0 291.0,390.0 298.0,382.0 310.0,374.0 322.0,368.0 336.0,362.0 348.0,352.0 354.0,337.0 360.0,330.0 368.0,324.0 376.0,314.0 384.0,308.0 390.0,304.0 396.0,296.0 402.0,286.0 408.0,277.0 414.0,267.0 420.0,260.0 426.0,253.0 432.0,250.0 438.0,246.0 444.0,239.0 450.0,228.0 456.0,231.0 462.0,234.0 468.0,226.0 474.0,216.0 480.0,210.0 486.0,206.0 492.0,201.0 498.0,197.0 503.0,188.0 508.0,182.0 513.0,178.0 518.0,171.0 524.0,169.0 529.0,167.0 531.0,167.0 538.0,161.0 546.0,158.0 554.0,157.0 562.0,156.0 570.0,155.0 578.0,154.0 586.0,152.6 594.0,152.0 602.0,150.6 610.0,148.0 618.0,148.0 626.0,147.0 634.0,147.0 642.0,147.0 650.0,146.0 658.0,146.0 666.0,147.0 674.0,148.0 682.0,147.0 690.0,147.4 698.0,147.4 706.0,148.0 714.0,149.0 722.0,149.4 730.0,148.6 738.0,150.0 746.0,151.0 754.0,151.0 762.0,151.4 769.0,152.0 771.0,154.0 778.0,157.0 786.0,161.0 794.0,163.0 802.0,169.0 810.0,170.0 818.0,177.0 826.0,179.0 834.0,180.0 840.0,177.0 846.0,178.0 852.0,185.0 857.0,189.0 864.0,192.0 870.0,198.0 876.0,202.0 882.0,209.0 888.0,216.0 894.0,223.0 900.0,226.0 906.0,227.0 912.0,227.0 918.0,231.0 924.0,237.0 930.0,248.0 936.0,255.0 942.0,259.0 948.0,265.0 954.0,268.0 960.0,271.0 966.0,275.0 972.0,283.0 978.0,290.0 983.0,300.0 988.0,309.0 994.0,311.0 1000.0,314.0 1007.0,320.0 1012.0,333.0 1018.0,343.0 1024.0,348.0 1030.0,359.0 1036.0,363.0 1042.0,369.0 1048.0,374.0 1055.0,372.0 1061.0,375.0 1067.0,378.0 1072.0,375.0 1076.0,379.0 1080.0,388.0 1085.0,394.0 1090.0,388.0 1096.0,394.0 1102.0,391.0 1108.0,395.0 1114.0,390.0 1120.0,390.0 1125.0,399.0 1131.0,401.0 1137.0,395.0 1143.0,390.0 1150.0,398.0 1156.0,393.0 1162.0,400.0 1169.6,398.0" fill="none" stroke="#5555f5" stroke-width="1.5" stroke-dasharray="7.5,4.5" stroke-linejoin="round"/>
<polyline points="58.6,417.0 62.0,419.0 65.0,419.6 68.0,379.0 71.0,385.0 74.4,399.0 77.4,394.0 80.4,386.0 83.4,403.0 86.6,388.0 89.6,353.0 92.4,352.4 95.6,326.0 98.6,277.0 101.6,314.0 104.6,358.0 108.0,381.0 111.0,360.0 114.0,320.0 117.0,261.0 120.0,248.0 123.0,282.0 126.0,317.0 129.2,333.0 132.2,271.0 135.2,317.0 138.4,353.6 141.4,358.0 144.6,381.0 147.6,382.4 150.6,382.4 153.6,383.6 156.6,382.0 159.6,353.0 163.0,265.0 165.8,262.0 168.8,352.0 171.8,393.0 175.0,375.0 178.0,364.0 181.0,354.4 184.0,327.0 187.0,340.0 190.0,377.6 193.2,377.6 196.2,378.0 199.2,380.0 202.4,375.0 205.4,367.6 208.4,376.0 211.4,394.0 214.4,389.0 217.6,395.6 220.6,397.6 223.6,404.0 226.6,409.0 229.8,411.0 232.8,415.0 236.0,409.0 239.0,404.0 242.0,399.0 245.2,388.0 248.0,368.0 251.2,337.4 254.2,329.4 257.4,333.6 260.4,353.6 263.4,363.6 266.4,365.6 269.6,352.0 272.6,355.0 275.6,368.0 278.6,384.0 281.6,369.0 284.6,357.0 287.6,368.0 291.0,377.0 294.0,384.0 297.2,364.0 300.4,346.4 303.4,353.6 306.4,361.0 309.4,370.0 312.4,375.0 315.4,381.0 318.6,371.0 321.6,369.0 324.6,367.6 327.6,344.0 330.6,304.0 333.6,274.0 336.6,285.0 339.6,302.0 342.6,311.0 345.6,316.0 348.6,270.0 351.6,244.0 354.6,263.0 357.8,281.6 360.8,260.0 363.8,254.4 366.8,265.6 370.0,267.0 373.0,268.4 376.0,256.0 379.0,254.4 382.0,253.6 385.2,271.0 388.2,289.0 391.2,301.6 394.2,297.0 397.4,276.0 400.4,257.0 403.4,268.6 406.4,260.0 409.6,256.0 412.6,263.0 415.6,273.0 418.6,274.0 421.6,277.6 424.8,272.0 427.8,261.0 430.8,251.0 434.0,248.0 437.0,239.0 440.0,239.6 443.0,237.0 446.0,246.0 449.2,245.0 452.2,239.6 455.2,226.0 458.2,216.4 461.4,237.0 464.4,239.0 467.4,226.0 470.4,212.0 473.6,200.0 476.6,194.0 479.6,187.0 482.6,191.0 485.8,184.0 488.8,176.4 491.8,174.4 494.8,175.0 498.0,167.0 501.0,163.6 504.0,167.0 507.0,168.4 510.0,168.4 513.2,157.0 516.2,173.0 519.2,177.0 522.4,183.0 525.4,176.0 528.4,169.0 531.0,168.6 533.0,166.0 536.0,161.0 539.0,155.0 542.0,149.0 544.0,146.6 547.0,157.0 550.0,144.0 553.0,144.6 556.0,139.0 559.0,130.0 562.0,127.4 565.0,141.0 568.0,145.0 571.0,149.4 574.0,150.6 577.0,147.0 580.0,133.0 583.0,132.6 586.0,141.0 589.0,144.6 592.0,139.0 595.0,132.0 598.0,132.0 601.0,133.4 604.0,131.0 607.0,135.0 610.0,144.6 613.0,144.6 616.0,144.0 619.0,143.0 621.0,140.0 624.0,131.0 627.0,124.6 629.0,127.0 631.0,141.0 633.0,151.0 636.0,154.0 639.0,154.0 642.0,152.0 645.0,153.0 648.0,154.6 650.0,145.0 653.0,128.0 656.0,127.6 659.0,137.0 662.0,145.0 665.0,150.6 668.0,151.0 670.0,145.0 672.0,138.6 675.0,137.4 678.0,142.0 681.0,149.0 684.0,151.0 687.0,151.4 690.0,150.6 693.0,139.0 696.0,129.0 698.0,135.0 701.0,145.0 703.0,152.0 706.0,135.0 709.0,120.0 712.0,122.0 715.0,127.0 717.0,141.0 719.0,154.0 721.0,155.0 723.0,161.0 725.0,162.6 728.0,160.0 730.0,147.0 733.0,135.0 736.0,139.0 739.0,145.0 742.0,135.0 745.0,128.0 747.0,128.6 749.0,137.0 752.0,149.0 755.0,154.6 758.0,152.0 761.0,144.0 764.0,153.0 767.0,141.0 770.0,125.0 773.0,149.0 776.0,149.0 779.0,156.0 782.0,148.0 785.0,166.0 788.0,159.0 791.0,160.0 794.0,155.0 797.0,170.0 800.0,156.0 803.0,138.0 806.0,136.0 809.0,139.0 812.0,132.0 815.6,162.0 818.6,154.0 821.6,143.6 824.6,152.0 827.6,159.6 830.6,166.0 833.6,159.0 836.6,158.0 839.6,158.0 842.6,153.6 845.6,152.0 848.8,151.6 851.8,148.0 854.8,156.0 858.0,164.0 861.0,165.0 864.0,165.0 867.0,166.4 870.0,164.4 873.0,166.0 876.0,172.0 879.0,175.0 882.0,178.0 885.0,180.0 888.0,180.0 891.0,182.4 894.0,184.4 897.0,186.0 900.0,189.0 903.6,199.0 906.6,190.0 909.6,187.0 912.6,190.0 915.6,178.0 918.6,177.0 922.6,191.0 925.6,183.0 928.6,183.0 931.6,196.0 934.6,198.0 937.6,196.0 940.6,204.0 943.6,207.0 946.6,211.0 949.6,216.0 952.6,227.0 956.0,239.0 959.0,237.0 962.6,212.0 965.6,230.0 968.6,239.0 971.6,241.0" fill="none" stroke="#000" stroke-width="2.2" stroke-linejoin="round" stroke-linecap="round"/>
<path d="M58.1 59.0H1170.0" stroke="#999" stroke-width="2" fill="none"/>
<path d="M1169.5 59.0V526.8" stroke="#555" stroke-width="1.1" fill="none"/>
<path d="M59.05 58.2V526.8" stroke="#6a6a6a" stroke-width="1.9" fill="none"/>
<path d="M58.1 526.3H1170.0" stroke="#111" stroke-width="1.1" fill="none"/>
<path d="M59.00 526.3V533.8M62.05 526.3V533.8M65.10 526.3V533.8M68.15 526.3V533.8M71.20 526.3V533.8M74.25 526.3V533.8M77.31 526.3V533.8M80.36 526.3V533.8M83.41 526.3V533.8M86.46 526.3V533.8M89.51 526.3V533.8M92.56 526.3V533.8M95.61 526.3V533.8M98.66 526.3V533.8M101.71 526.3V533.8M104.77 526.3V533.8M107.82 526.3V533.8M110.87 526.3V533.8M113.92 526.3V533.8M116.97 526.3V533.8M120.02 526.3V533.8M123.07 526.3V533.8M126.12 526.3V533.8M129.17 526.3V533.8M132.22 526.3V533.8M135.28 526.3V533.8M138.33 526.3V533.8M141.38 526.3V533.8M144.43 526.3V533.8M147.48 526.3V533.8M150.53 526.3V533.8M153.58 526.3V533.8M156.63 526.3V533.8M159.68 526.3V533.8M162.73 526.3V533.8M165.79 526.3V533.8M168.84 526.3V533.8M171.89 526.3V533.8M174.94 526.3V533.8M177.99 526.3V533.8M181.04 526.3V533.8M184.09 526.3V533.8M187.14 526.3V533.8M190.19 526.3V533.8M193.24 526.3V533.8M196.30 526.3V533.8M199.35 526.3V533.8M202.40 526.3V533.8M205.45 526.3V533.8M208.50 526.3V533.8M211.55 526.3V533.8M214.60 526.3V533.8M217.65 526.3V533.8M220.70 526.3V533.8M223.75 526.3V533.8M226.81 526.3V533.8M229.86 526.3V533.8M232.91 526.3V533.8M235.96 526.3V533.8M239.01 526.3V533.8M242.06 526.3V533.8M245.11 526.3V533.8M248.16 526.3V533.8M251.21 526.3V533.8M254.26 526.3V533.8M257.31 526.3V533.8M260.37 526.3V533.8M263.42 526.3V533.8M266.47 526.3V533.8M269.52 526.3V533.8M272.57 526.3V533.8M275.62 526.3V533.8M278.67 526.3V533.8M281.72 526.3V533.8M284.77 526.3V533.8M287.83 526.3V533.8M290.88 526.3V533.8M293.93 526.3V533.8M296.98 526.3V533.8M300.03 526.3V533.8M303.08 526.3V533.8M306.13 526.3V533.8M309.18 526.3V533.8M312.23 526.3V533.8M315.28 526.3V533.8M318.34 526.3V533.8M321.39 526.3V533.8M324.44 526.3V533.8M327.49 526.3V533.8M330.54 526.3V533.8M333.59 526.3V533.8M336.64 526.3V533.8M339.69 526.3V533.8M342.74 526.3V533.8M345.79 526.3V533.8M348.85 526.3V533.8M351.90 526.3V533.8M354.95 526.3V533.8M358.00 526.3V533.8M361.05 526.3V533.8M364.10 526.3V533.8M367.15 526.3V533.8M370.20 526.3V533.8M373.25 526.3V533.8M376.30 526.3V533.8M379.36 526.3V533.8M382.41 526.3V533.8M385.46 526.3V533.8M388.51 526.3V533.8M391.56 526.3V533.8M394.61 526.3V533.8M397.66 526.3V533.8M400.71 526.3V533.8M403.76 526.3V533.8M406.81 526.3V533.8M409.87 526.3V533.8M412.92 526.3V533.8M415.97 526.3V533.8M419.02 526.3V533.8M422.07 526.3V533.8M425.12 526.3V533.8M428.17 526.3V533.8M431.22 526.3V533.8M434.27 526.3V533.8M437.32 526.3V533.8M440.38 526.3V533.8M443.43 526.3V533.8M446.48 526.3V533.8M449.53 526.3V533.8M452.58 526.3V533.8M455.63 526.3V533.8M458.68 526.3V533.8M461.73 526.3V533.8M464.78 526.3V533.8M467.83 526.3V533.8M470.89 526.3V533.8M473.94 526.3V533.8M476.99 526.3V533.8M480.04 526.3V533.8M483.09 526.3V533.8M486.14 526.3V533.8M489.19 526.3V533.8M492.24 526.3V533.8M495.29 526.3V533.8M498.34 526.3V533.8M501.40 526.3V533.8M504.45 526.3V533.8M507.50 526.3V533.8M510.55 526.3V533.8M513.60 526.3V533.8M516.65 526.3V533.8M519.70 526.3V533.8M522.75 526.3V533.8M525.80 526.3V533.8M528.85 526.3V533.8M531.90 526.3V533.8M534.96 526.3V533.8M538.01 526.3V533.8M541.06 526.3V533.8M544.11 526.3V533.8M547.16 526.3V533.8M550.21 526.3V533.8M553.26 526.3V533.8M556.31 526.3V533.8M559.36 526.3V533.8M562.41 526.3V533.8M565.47 526.3V533.8M568.52 526.3V533.8M571.57 526.3V533.8M574.62 526.3V533.8M577.67 526.3V533.8M580.72 526.3V533.8M583.77 526.3V533.8M586.82 526.3V533.8M589.87 526.3V533.8M592.93 526.3V533.8M595.98 526.3V533.8M599.03 526.3V533.8M602.08 526.3V533.8M605.13 526.3V533.8M608.18 526.3V533.8M611.23 526.3V533.8M614.28 526.3V533.8M617.33 526.3V533.8M620.38 526.3V533.8M623.44 526.3V533.8M626.49 526.3V533.8M629.54 526.3V533.8M632.59 526.3V533.8M635.64 526.3V533.8M638.69 526.3V533.8M641.74 526.3V533.8M644.79 526.3V533.8M647.84 526.3V533.8M650.89 526.3V533.8M653.95 526.3V533.8M657.00 526.3V533.8M660.05 526.3V533.8M663.10 526.3V533.8M666.15 526.3V533.8M669.20 526.3V533.8M672.25 526.3V533.8M675.30 526.3V533.8M678.35 526.3V533.8M681.40 526.3V533.8M684.46 526.3V533.8M687.51 526.3V533.8M690.56 526.3V533.8M693.61 526.3V533.8M696.66 526.3V533.8M699.71 526.3V533.8M702.76 526.3V533.8M705.81 526.3V533.8M708.86 526.3V533.8M711.91 526.3V533.8M714.97 526.3V533.8M718.02 526.3V533.8M721.07 526.3V533.8M724.12 526.3V533.8M727.17 526.3V533.8M730.22 526.3V533.8M733.27 526.3V533.8M736.32 526.3V533.8M739.37 526.3V533.8M742.42 526.3V533.8M745.48 526.3V533.8M748.53 526.3V533.8M751.58 526.3V533.8M754.63 526.3V533.8M757.68 526.3V533.8M760.73 526.3V533.8M763.78 526.3V533.8M766.83 526.3V533.8M769.88 526.3V533.8M772.93 526.3V533.8M775.99 526.3V533.8M779.04 526.3V533.8M782.09 526.3V533.8M785.14 526.3V533.8M788.19 526.3V533.8M791.24 526.3V533.8M794.29 526.3V533.8M797.34 526.3V533.8M800.39 526.3V533.8M803.44 526.3V533.8M806.50 526.3V533.8M809.55 526.3V533.8M812.60 526.3V533.8M815.65 526.3V533.8M818.70 526.3V533.8M821.75 526.3V533.8M824.80 526.3V533.8M827.85 526.3V533.8M830.90 526.3V533.8M833.95 526.3V533.8M837.00 526.3V533.8M840.06 526.3V533.8M843.11 526.3V533.8M846.16 526.3V533.8M849.21 526.3V533.8M852.26 526.3V533.8M855.31 526.3V533.8M858.36 526.3V533.8M861.41 526.3V533.8M864.46 526.3V533.8M867.51 526.3V533.8M870.57 526.3V533.8M873.62 526.3V533.8M876.67 526.3V533.8M879.72 526.3V533.8M882.77 526.3V533.8M885.82 526.3V533.8M888.87 526.3V533.8M891.92 526.3V533.8M894.97 526.3V533.8M898.03 526.3V533.8M901.08 526.3V533.8M904.13 526.3V533.8M907.18 526.3V533.8M910.23 526.3V533.8M913.28 526.3V533.8M916.33 526.3V533.8M919.38 526.3V533.8M922.43 526.3V533.8M925.48 526.3V533.8M928.54 526.3V533.8M931.59 526.3V533.8M934.64 526.3V533.8M937.69 526.3V533.8M940.74 526.3V533.8M943.79 526.3V533.8M946.84 526.3V533.8M949.89 526.3V533.8M952.94 526.3V533.8M955.99 526.3V533.8M959.05 526.3V533.8M962.10 526.3V533.8M965.15 526.3V533.8M968.20 526.3V533.8M971.25 526.3V533.8M974.30 526.3V533.8M977.35 526.3V533.8M980.40 526.3V533.8M983.45 526.3V533.8M986.50 526.3V533.8M989.56 526.3V533.8M992.61 526.3V533.8M995.66 526.3V533.8M998.71 526.3V533.8M1001.76 526.3V533.8M1004.81 526.3V533.8M1007.86 526.3V533.8M1010.91 526.3V533.8M1013.96 526.3V533.8M1017.01 526.3V533.8M1020.07 526.3V533.8M1023.12 526.3V533.8M1026.17 526.3V533.8M1029.22 526.3V533.8M1032.27 526.3V533.8M1035.32 526.3V533.8M1038.37 526.3V533.8M1041.42 526.3V533.8M1044.47 526.3V533.8M1047.52 526.3V533.8M1050.58 526.3V533.8M1053.63 526.3V533.8M1056.68 526.3V533.8M1059.73 526.3V533.8M1062.78 526.3V533.8M1065.83 526.3V533.8M1068.88 526.3V533.8M1071.93 526.3V533.8M1074.98 526.3V533.8M1078.03 526.3V533.8M1081.09 526.3V533.8M1084.14 526.3V533.8M1087.19 526.3V533.8M1090.24 526.3V533.8M1093.29 526.3V533.8M1096.34 526.3V533.8M1099.39 526.3V533.8M1102.44 526.3V533.8M1105.49 526.3V533.8M1108.54 526.3V533.8M1111.60 526.3V533.8M1114.65 526.3V533.8M1117.70 526.3V533.8M1120.75 526.3V533.8M1123.80 526.3V533.8M1126.85 526.3V533.8M1129.90 526.3V533.8M1132.95 526.3V533.8M1136.00 526.3V533.8M1139.05 526.3V533.8M1142.11 526.3V533.8M1145.16 526.3V533.8M1148.21 526.3V533.8M1151.26 526.3V533.8M1154.31 526.3V533.8M1157.36 526.3V533.8M1160.41 526.3V533.8M1163.46 526.3V533.8M1166.51 526.3V533.8M1169.56 526.3V533.8" stroke="#333" stroke-width="1" fill="none"/>
<path d="M59.0 482.25h-7.5" stroke="#222" stroke-width="1"/>
<text class="sans" font-size="10.1" text-anchor="middle" transform="translate(42.00,482.35) rotate(-90) scale(0.930,1.000)">-35</text>
<path d="M59.0 437.10h-7.5" stroke="#222" stroke-width="1"/>
<text class="sans" font-size="10.1" text-anchor="middle" transform="translate(42.00,437.20) rotate(-90) scale(0.930,1.000)">-30</text>
<path d="M59.0 392.00h-7.5" stroke="#222" stroke-width="1"/>
<text class="sans" font-size="10.1" text-anchor="middle" transform="translate(42.00,392.10) rotate(-90) scale(0.930,1.000)">-25</text>
<path d="M59.0 346.80h-7.5" stroke="#222" stroke-width="1"/>
<text class="sans" font-size="10.1" text-anchor="middle" transform="translate(42.00,346.90) rotate(-90) scale(0.930,1.000)">-20</text>
<path d="M59.0 301.60h-7.5" stroke="#222" stroke-width="1"/>
<text class="sans" font-size="10.1" text-anchor="middle" transform="translate(42.00,301.70) rotate(-90) scale(0.930,1.000)">-15</text>
<path d="M59.0 256.60h-7.5" stroke="#222" stroke-width="1"/>
<text class="sans" font-size="10.1" text-anchor="middle" transform="translate(42.00,256.70) rotate(-90) scale(0.930,1.000)">-10</text>
<path d="M59.0 211.50h-7.5" stroke="#222" stroke-width="1"/>
<text class="sans" font-size="10.1" text-anchor="middle" transform="translate(42.00,211.60) rotate(-90) scale(0.930,1.000)">-5</text>
<path d="M59.0 166.50h-7.5" stroke="#222" stroke-width="1"/>
<text class="sans" font-size="10.1" text-anchor="middle" transform="translate(42.00,166.60) rotate(-90) scale(0.930,1.000)">0</text>
<path d="M59.0 121.50h-7.5" stroke="#222" stroke-width="1"/>
<text class="sans" font-size="10.1" text-anchor="middle" transform="translate(42.00,121.60) rotate(-90) scale(0.930,1.000)">5</text>
<path d="M59.0 76.50h-7.5" stroke="#222" stroke-width="1"/>
<text class="sans" font-size="10.1" text-anchor="middle" transform="translate(42.00,76.60) rotate(-90) scale(0.930,1.000)">10</text>
<text class="sans" font-size="10.2" text-anchor="middle" transform="translate(59.00,552.80) scale(0.820,1.000)" style="fill:#222">sty 01</text>
<text class="sans" font-size="10.2" text-anchor="middle" transform="translate(89.51,552.80) scale(0.820,1.000)" style="fill:#222">sty 11</text>
<text class="sans" font-size="10.2" text-anchor="middle" transform="translate(120.02,552.80) scale(0.820,1.000)" style="fill:#222">sty 21</text>
<text class="sans" font-size="10.2" text-anchor="middle" transform="translate(150.53,552.80) scale(0.820,1.000)" style="fill:#222">sty 31</text>
<text class="sans" font-size="10.2" text-anchor="middle" transform="translate(181.04,552.80) scale(0.820,1.000)" style="fill:#222">lut 10</text>
<text class="sans" font-size="10.2" text-anchor="middle" transform="translate(211.55,552.80) scale(0.820,1.000)" style="fill:#222">lut 20</text>
<text class="sans" font-size="10.2" text-anchor="middle" transform="translate(245.11,552.80) scale(0.820,1.000)" style="fill:#222">mar 03</text>
<text class="sans" font-size="10.2" text-anchor="middle" transform="translate(281.72,552.80) scale(0.820,1.000)" style="fill:#222">mar 15</text>
<text class="sans" font-size="10.2" text-anchor="middle" transform="translate(318.34,552.80) scale(0.820,1.000)" style="fill:#222">mar 27</text>
<text class="sans" font-size="10.2" text-anchor="middle" transform="translate(351.90,552.80) scale(0.820,1.000)" style="fill:#222">kwi 07</text>
<text class="sans" font-size="10.2" text-anchor="middle" transform="translate(385.46,552.80) scale(0.820,1.000)" style="fill:#222">kwi 18</text>
<text class="sans" font-size="10.2" text-anchor="middle" transform="translate(419.02,552.80) scale(0.820,1.000)" style="fill:#222">kwi 29</text>
<text class="sans" font-size="10.2" text-anchor="middle" transform="translate(452.58,552.80) scale(0.820,1.000)" style="fill:#222">maj 10</text>
<text class="sans" font-size="10.2" text-anchor="middle" transform="translate(486.14,552.80) scale(0.820,1.000)" style="fill:#222">maj 21</text>
<text class="sans" font-size="10.2" text-anchor="middle" transform="translate(519.70,552.80) scale(0.820,1.000)" style="fill:#222">cze 01</text>
<text class="sans" font-size="10.2" text-anchor="middle" transform="translate(553.26,552.80) scale(0.820,1.000)" style="fill:#222">cze 12</text>
<text class="sans" font-size="10.2" text-anchor="middle" transform="translate(586.82,552.80) scale(0.820,1.000)" style="fill:#222">cze 23</text>
<text class="sans" font-size="10.2" text-anchor="middle" transform="translate(617.33,552.80) scale(0.820,1.000)" style="fill:#222">lip 03</text>
<text class="sans" font-size="10.2" text-anchor="middle" transform="translate(647.84,552.80) scale(0.820,1.000)" style="fill:#222">lip 13</text>
<text class="sans" font-size="10.2" text-anchor="middle" transform="translate(678.35,552.80) scale(0.820,1.000)" style="fill:#222">lip 23</text>
<text class="sans" font-size="10.2" text-anchor="middle" transform="translate(708.86,552.80) scale(0.820,1.000)" style="fill:#222">sie 02</text>
<text class="sans" font-size="10.2" text-anchor="middle" transform="translate(739.37,552.80) scale(0.820,1.000)" style="fill:#222">sie 12</text>
<text class="sans" font-size="10.2" text-anchor="middle" transform="translate(769.88,552.80) scale(0.820,1.000)" style="fill:#222">sie 22</text>
<text class="sans" font-size="10.2" text-anchor="middle" transform="translate(803.44,552.80) scale(0.820,1.000)" style="fill:#222">wrz 02</text>
<text class="sans" font-size="10.2" text-anchor="middle" transform="translate(837.00,552.80) scale(0.820,1.000)" style="fill:#222">wrz 13</text>
<text class="sans" font-size="10.2" text-anchor="middle" transform="translate(870.57,552.80) scale(0.820,1.000)" style="fill:#222">wrz 24</text>
<text class="sans" font-size="10.2" text-anchor="middle" transform="translate(904.13,552.80) scale(0.820,1.000)" style="fill:#222">paź 05</text>
<text class="sans" font-size="10.2" text-anchor="middle" transform="translate(937.69,552.80) scale(0.820,1.000)" style="fill:#222">paź 16</text>
<text class="sans" font-size="10.2" text-anchor="middle" transform="translate(971.25,552.80) scale(0.820,1.000)" style="fill:#222">paź 27</text>
<text class="sans" font-size="10.2" text-anchor="middle" transform="translate(1001.76,552.80) scale(0.820,1.000)" style="fill:#222">lis 06</text>
<text class="sans" font-size="10.2" text-anchor="middle" transform="translate(1029.22,552.80) scale(0.820,1.000)" style="fill:#222">lis 15</text>
<text class="sans" font-size="10.2" text-anchor="middle" transform="translate(1056.68,552.80) scale(0.820,1.000)" style="fill:#222">lis 24</text>
<text class="sans" font-size="10.2" text-anchor="middle" transform="translate(1087.19,552.80) scale(0.820,1.000)" style="fill:#222">gru 04</text>
<text class="sans" font-size="10.2" text-anchor="middle" transform="translate(1120.75,552.80) scale(0.820,1.000)" style="fill:#222">gru 15</text>
<text class="sans" font-size="10.2" text-anchor="middle" transform="translate(1154.31,552.80) scale(0.820,1.000)" style="fill:#222">gru 26</text>
<text class="sans" font-size="10.2" text-anchor="middle" transform="translate(614.30,580.80) scale(1.150,1.000)">Data</text>
<text class="sans" font-size="10.6" text-anchor="middle" transform="translate(12.30,292.60) rotate(-90) scale(1.160,1.000)">Temperatura</text>
<path d="M97.5 81.7H150.7" stroke="#000" stroke-width="2.6" stroke-linecap="round" fill="none"/>
<text class="sans" font-size="11.2" text-anchor="start" transform="translate(161.70,85.80) scale(1.100,1.000)">2022</text>
<path d="M96.8 96.1H151.8" stroke="#6a6aff" stroke-width="1.25" stroke-linecap="butt" fill="none"/>
<text class="sans" font-size="11.2" text-anchor="start" transform="translate(161.70,100.20) scale(1.100,1.000)">1981-1990</text>
<path d="M96.8 110.5H151.8" stroke="#2e7d32" stroke-width="1" stroke-linecap="butt" fill="none"/>
<text class="sans" font-size="11.2" text-anchor="start" transform="translate(161.70,114.60) scale(1.100,1.000)">1991-2000</text>
<path d="M96.8 124.9H151.8" stroke="#ffe680" stroke-width="1.8" stroke-linecap="butt" fill="none"/>
<text class="sans" font-size="11.2" text-anchor="start" transform="translate(161.70,129.00) scale(1.100,1.000)">2001-2010</text>
<path d="M96.8 139.3H151.8" stroke="#ff3b3b" stroke-width="1" stroke-linecap="butt" fill="none"/>
<text class="sans" font-size="11.2" text-anchor="start" transform="translate(161.70,143.40) scale(1.100,1.000)">2011-2020</text>
<path d="M96.8 153.7H151.8" stroke="#ff0000" stroke-width="1.8" stroke-dasharray="7.5,4.5" stroke-linecap="butt" fill="none"/>
<text class="sans" font-size="11.2" text-anchor="start" transform="translate(161.70,157.80) scale(1.100,1.000)">1991-2020</text>
<path d="M96.8 168.1H151.8" stroke="#0000ff" stroke-width="1.8" stroke-dasharray="7.5,4.5" stroke-linecap="butt" fill="none"/>
<text class="sans" font-size="11.2" text-anchor="start" transform="translate(161.70,172.20) scale(1.100,1.000)">1951-1980</text>
<path d="M97.5 182.5H151.5" stroke="#e8e8e8" stroke-width="5" stroke-linecap="round" fill="none"/>
<text class="sans" font-size="11.2" text-anchor="start" transform="translate(161.70,186.60) scale(1.100,1.000)">max-min 1950-2021</text>
</svg></body></html>
